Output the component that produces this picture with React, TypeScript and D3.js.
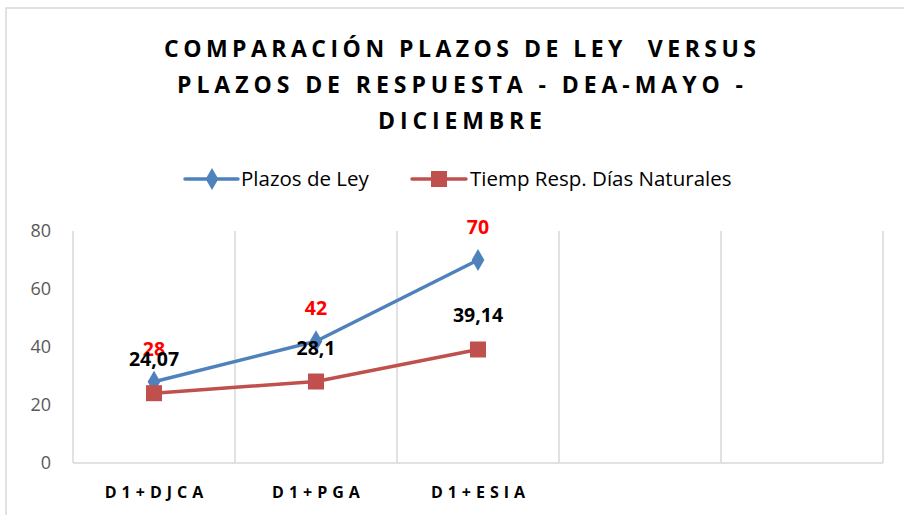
import React from 'react';
import * as d3 from 'd3';

const titleLines = ['COMPARACIÓN PLAZOS DE LEY  VERSUS', 'PLAZOS DE RESPUESTA - DEA-MAYO -', 'DICIEMBRE'];
const categories = ['D1+DJCA', 'D1+PGA', 'D1+ESIA', '', ''];
const plazosLey = [28, 42, 70];
const tiempResp = [24.07, 28.1, 39.14];
const tiempLabels = ['24,07', '28,1', '39,14'];
const yTicks = [0, 20, 40, 60, 80];
const seriesNames = ['Plazos de Ley', 'Tiemp Resp. Días Naturales'];

const W = 904, H = 515;
const FONT = "'Open Sans', 'DejaVu Sans', sans-serif";
const BLUE = '#4F81BD', RED = '#C0504D';

export default function App() {
  const margin = { left: 73, right: 21, top: 231, bottom: 52 };
  const x = d3.scaleBand<number>().domain(categories.map((_, i) => i)).range([margin.left, W - margin.right]);
  const y = d3.scaleLinear().domain([0, 80]).range([H - margin.bottom, margin.top]);
  const cx = (i: number) => (x(i) as number) + x.bandwidth() / 2;
  const line = d3.line<number>().x((_, i) => cx(i)).y((d) => y(d));
  const bounds = categories.map((_, i) => x(i) as number).concat([W - margin.right]);
  const diamond = d3.symbol().type(d3.symbolDiamond).size(140)();
  const titleWidths = [592, 566, 164];

  return (
    <svg width={W} height={H} style={{ position: 'absolute', left: 0, top: 0, background: '#fff' }} fontFamily={FONT}>
      <rect x={6} y={8} width={W} height={H} fill="none" stroke="#d9d9d9" strokeWidth={1.5} />
      {titleLines.map((t, i) => (
        <text key={i} x={460} y={57 + i * 36} textAnchor="middle" fontSize={23} fontWeight={700}
          fill="#000" style={{ whiteSpace: 'pre' }} textLength={titleWidths[i]} lengthAdjust="spacing">{t}</text>
      ))}
      {/* legend */}
      <g>
        <line x1={185} x2={238} y1={179} y2={179} stroke={BLUE} strokeWidth={3.5} strokeLinecap="round" />
        <path d={diamond || ''} transform="translate(212,179)" fill={BLUE} />
        <text x={241} y={186} fontSize={20.5} fill="#000">{seriesNames[0]}</text>
        <line x1={412} x2={466} y1={179} y2={179} stroke={RED} strokeWidth={3.5} strokeLinecap="round" />
        <rect x={431} y={171} width={16} height={16} fill={RED} />
        <text x={470} y={186} fontSize={20.5} fill="#000">{seriesNames[1]}</text>
      </g>
      {/* gridlines */}
      {bounds.map((bx, i) => (
        <line key={i} x1={bx} x2={bx} y1={y(80)} y2={y(0)} stroke="#d9d9d9" strokeWidth={1.5} />
      ))}
      <line x1={margin.left} x2={W - margin.right} y1={y(0)} y2={y(0)} stroke="#d9d9d9" strokeWidth={1.5} />
      {yTicks.map((t) => (
        <text key={t} x={51} y={y(t) + 6} textAnchor="end" fontSize={18} fill="#595959">{t}</text>
      ))}
      {categories.map((c, i) => (
        <text key={i} x={cx(i) + 2.5} y={498} textAnchor="middle" fontSize={16} fontWeight={700}
          letterSpacing={5} fill="#000">{c}</text>
      ))}
      {/* series */}
      <path d={line(tiempResp) || ''} fill="none" stroke={RED} strokeWidth={3.5} strokeLinejoin="round" />
      <path d={line(plazosLey) || ''} fill="none" stroke={BLUE} strokeWidth={3.5} strokeLinejoin="round" />
      {plazosLey.map((v, i) => (
        <path key={i} d={diamond || ''} transform={`translate(${cx(i)},${y(v)})`} fill={BLUE} />
      ))}
      {tiempResp.map((v, i) => (
        <rect key={i} x={cx(i) - 8} y={y(v) - 8} width={16} height={16} fill={RED} />
      ))}
      {plazosLey.map((v, i) => (
        <text key={i} x={cx(i)} y={y(v) - 26} textAnchor="middle" fontSize={19.5} fontWeight={700} fill="#FF0000">{v}</text>
      ))}
      {tiempResp.map((v, i) => (
        <text key={i} x={cx(i)} y={y(v) - 27} textAnchor="middle" fontSize={19.5} fontWeight={700} fill="#000">{tiempLabels[i]}</text>
      ))}
    </svg>
  );
}
